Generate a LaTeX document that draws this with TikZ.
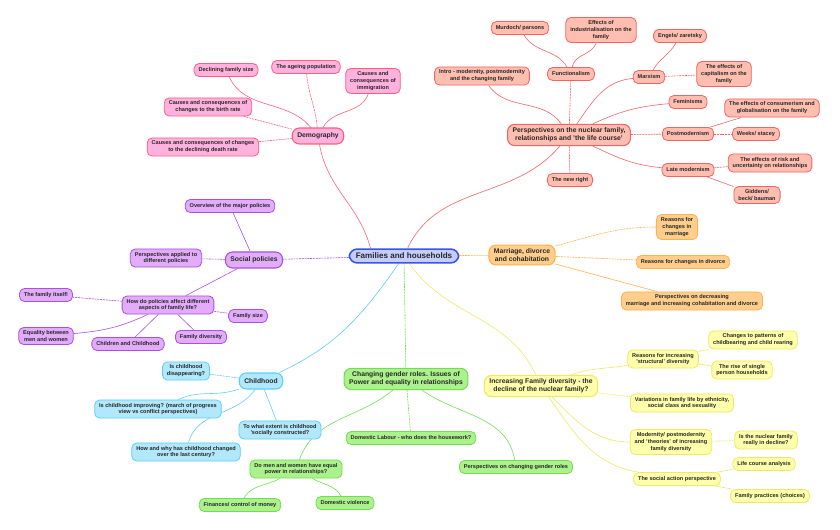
\documentclass[tikz,border=0pt]{standalone}
\usepackage{fontspec}
\setmainfont{Liberation Sans}
\usetikzlibrary{backgrounds}
\definecolor{cenfill}{RGB}{198,205,250}
\definecolor{cenline}{RGB}{51,85,238}
\definecolor{pkfill}{RGB}{255,178,222}
\definecolor{pkline}{RGB}{255,95,125}
\definecolor{rdfill}{RGB}{255,190,176}
\definecolor{rdline}{RGB}{240,100,100}
\definecolor{pufill}{RGB}{226,172,250}
\definecolor{puline}{RGB}{170,80,225}
\definecolor{cyfill}{RGB}{178,232,252}
\definecolor{cyline}{RGB}{95,205,245}
\definecolor{grfill}{RGB}{172,242,140}
\definecolor{grline}{RGB}{112,222,80}
\definecolor{yefill}{RGB}{255,255,172}
\definecolor{yeline}{RGB}{238,232,100}
\definecolor{orfill}{RGB}{255,206,140}
\definecolor{orline}{RGB}{255,176,80}
\tikzset{
  box/.style={rounded corners=5bp, align=center, inner xsep=4.5bp, inner ysep=3bp,
    minimum height=13bp, line width=0.8bp, text=black!85,
    font=\bfseries\fontsize{5.6}{6.9}\selectfont},
  topic/.style={box, rounded corners=7bp, inner xsep=5bp, inner ysep=3.5bp,
    minimum height=16bp, line width=1.1bp, font=\bfseries\fontsize{6.8}{7.9}\selectfont},
  hub/.style={box, rounded corners=8bp, inner xsep=6.5bp, inner ysep=4bp,
    line width=1.5bp, fill=cenfill, draw=cenline, font=\bfseries\fontsize{8.1}{9}\selectfont},
  pk/.style={fill=pkfill, draw=pkline},
  rd/.style={fill=rdfill, draw=rdline},
  pu/.style={fill=pufill, draw=puline},
  cy/.style={fill=cyfill, draw=cyline},
  gr/.style={fill=grfill, draw=grline},
  ye/.style={fill=yefill, draw=yeline},
  or/.style={fill=orfill, draw=orline},
  lnk/.style={line width=0.6bp},
  hv/.style={lnk, dash pattern=on 2bp off 0.8bp},
}

\begin{document}
\begin{tikzpicture}[x=1bp, y=1bp]
\useasboundingbox (0,0) rectangle (840,-530);
%---- centre
\node[hub] (fam) at (404,-256) {Families and households};
%---- demography
\node[topic,pk] (demo) at (318,-136) {Demography};
\node[box,pk] (decl) at (226,-70) {Declining family size};
\node[box,pk] (ageing) at (306,-67) {The ageing population};
\node[box,pk] (immig) at (373,-81) {Causes and\\consequences of\\immigration};
\node[box,pk] (birth) at (208,-107) {Causes and consequences of\\changes to the birth rate};
\node[box,pk] (death) at (203,-147) {Causes and consequences of changes\\to the declining death rate};
%---- perspectives
\node[topic,rd] (persp) at (569,-135) {Perspectives on the nuclear family,\\relationships and 'the life course'};
\node[box,rd] (intro) at (482,-76) {Intro - modernity, postmodernity\\and the changing family};
\node[box,rd] (func) at (571,-74) {Functionalism};
\node[box,rd] (murd) at (520,-28) {Murdoch/ parsons};
\node[box,rd] (indus) at (601,-30) {Effects of\\industrialisation on the\\family};
\node[box,rd] (marx) at (649,-77) {Marxism};
\node[box,rd] (engels) at (680,-36) {Engels/ zaretsky};
\node[box,rd] (capit) at (724,-74) {The effects of\\capitalism on the\\family};
\node[box,rd] (femin) at (688,-102) {Feminisms};
\node[box,rd] (postm) at (688,-134) {Postmodernism};
\node[box,rd] (consum) at (772,-108) {The effects of consumerism and\\globalisation on the family};
\node[box,rd] (weeks) at (756,-134) {Weeks/ stacey};
\node[box,rd] (latem) at (688,-170) {Late modernism};
\node[box,rd] (risk) at (770,-163) {The effects of risk and\\uncertainty on relationships};
\node[box,rd] (gidd) at (757,-195) {Giddens/\\beck/ bauman};
\node[box,rd] (newr) at (570,-180) {The new right};
%---- social policies
\node[topic,pu] (socp) at (254,-260) {Social policies};
\node[box,pu] (overv) at (230,-206) {Overview of the major policies};
\node[box,pu] (applied) at (166,-258) {Perspectives applied to\\different policies};
\node[box,pu] (howdo) at (168,-305) {How do policies affect different\\aspects of family life?};
\node[box,pu] (itself) at (46,-295) {The family itself!};
\node[box,pu] (fsize) at (248,-316) {Family size};
\node[box,pu] (equal) at (46,-336) {Equality between\\men and women};
\node[box,pu] (chchild) at (128,-344) {Children and Childhood};
\node[box,pu] (fdiv) at (201,-337) {Family diversity};
%---- childhood
\node[topic,cy] (child) at (261,-381) {Childhood};
\node[box,cy] (disapp) at (186,-371) {Is childhood\\disappearing?};
\node[box,cy] (improv) at (158,-409) {Is childhood improving? (march of progress\\view vs conflict perspectives)};
\node[box,cy] (constr) at (280,-430) {To what extent is childhood\\'socially constructed?};
\node[box,cy] (howwhy) at (186,-452) {How and why has childhood changed\\over the last century?};
%---- gender roles
\node[topic,gr] (gender) at (406,-379) {Changing gender roles. Issues of\\Power and equality in relationships};
\node[box,gr] (domlab) at (411,-438) {Domestic Labour - who does the housework?};
\node[box,gr] (persgr) at (516,-467) {Perspectives on changing gender roles};
\node[box,gr] (power) at (296,-469) {Do men and women have equal\\power in relationships?};
\node[box,gr] (money) at (240,-505) {Finances/ control of money};
\node[box,gr] (viol) at (345,-503) {Domestic violence};
%---- family diversity
\node[topic,ye] (divers) at (541,-386) {Increasing Family diversity - the\\decline of the nuclear family?};
\node[box,ye] (struct) at (663,-359) {Reasons for increasing\\'structural' diversity};
\node[box,ye] (childb) at (753,-340) {Changes to patterns of\\childbearing and child rearing};
\node[box,ye] (single) at (742,-370) {The rise of single\\person households};
\node[box,ye] (variat) at (682,-403) {Variations in family life by ethnicity,\\social class and sexuality};
\node[box,ye] (modern) at (671,-442) {Modernity/ postmodernity\\and 'theories' of increasing\\family diversity};
\node[box,ye] (decline) at (766,-440) {Is the nuclear family\\really in decline?};
\node[box,ye] (socact) at (677,-479) {The social action perspective};
\node[box,ye] (lifec) at (764,-464) {Life course analysis};
\node[box,ye] (pract) at (770,-496) {Family practices (choices)};
%---- marriage
\node[topic,or] (marr) at (522,-255) {Marriage, divorce\\and cohabitation};
\node[box,or] (rmarr) at (677,-227) {Reasons for\\changes in\\marriage};
\node[box,or] (rdiv) at (683,-262) {Reasons for changes in divorce};
\node[box,or] (pdecr) at (692,-301) {Perspectives on decreasing\\marriage and increasing cohabitation and divorce};
%---- links
\begin{scope}[on background layer]
\draw[lnk, pkline] ([xshift=22bp]fam.north west) to[out=105,in=-80] (demo);
\draw[lnk, pkline] (demo) to[out=130,in=-65] (decl);
\draw[hv, pkline] (demo) to[out=95,in=-85] (ageing);
\draw[lnk, pkline] (demo) to[out=60,in=-110] (immig);
\draw[hv, pkline] (demo) -- (birth);
\draw[hv, pkline] (demo) -- (death);
\draw[lnk, rdline] (fam) to[out=65,in=-130] (persp);
\draw[lnk, rdline] (persp) to[out=125,in=-55] (intro);
\draw[hv, rdline] (persp) -- (func);
\draw[lnk, rdline] (func) to[out=120,in=-60] (murd);
\draw[lnk, rdline] (func) to[out=80,in=-110] (indus);
\draw[lnk, rdline] (persp) to[out=55,in=185] (marx);
\draw[lnk, rdline] (marx) to[out=60,in=-120] (engels);
\draw[hv, rdline] (marx) -- (capit);
\draw[lnk, rdline] (persp) to[out=25,in=185] (femin);
\draw[hv, rdline] (persp) -- (postm);
\draw[lnk, rdline] (postm) -- (consum);
\draw[hv, rdline] (postm) -- (weeks);
\draw[lnk, rdline] (persp) to[out=-25,in=175] (latem);
\draw[hv, rdline] (latem) -- (risk);
\draw[lnk, rdline] (latem) -- (gidd);
\draw[hv, rdline] (persp) -- (newr);
\draw[hv, puline] (fam) -- (socp);
\draw[lnk, puline] (socp) -- (overv);
\draw[hv, puline] (socp) -- (applied);
\draw[lnk, puline] (socp) -- (howdo);
\draw[hv, puline] (howdo) -- (itself);
\draw[hv, puline] (howdo) -- (fsize);
\draw[lnk, puline] (howdo) to[out=-155,in=5] (equal);
\draw[lnk, puline] (howdo) -- (chchild);
\draw[lnk, puline] (howdo) -- (fdiv);
\draw[lnk, cyline] (fam) to[out=-125,in=25] (child);
\draw[hv, cyline] (child) -- (disapp);
\draw[lnk, cyline] (child) to[out=-160,in=25] (improv);
\draw[lnk, cyline] (child) -- (constr);
\draw[lnk, cyline] (child) to[out=-125,in=75] (howwhy);
\draw[hv, grline] (fam) -- (gender);
\draw[hv, grline] (gender) -- (domlab);
\draw[lnk, grline] (gender) to[out=-35,in=100] (persgr);
\draw[lnk, grline] (gender) to[out=-140,in=70] (power);
\draw[lnk, grline] (power) to[out=-150,in=60] (money);
\draw[lnk, grline] (power) to[out=-30,in=120] (viol);
\draw[lnk, yeline] (fam) to[out=-55,in=115] (divers);
\draw[lnk, yeline] (divers) to[out=20,in=190] (struct);
\draw[lnk, yeline] (struct) -- (childb);
\draw[lnk, yeline] (struct) -- (single);
\draw[hv, yeline] (divers) -- (variat);
\draw[lnk, yeline] (divers) to[out=-45,in=180] (modern);
\draw[hv, yeline] (modern) -- (decline);
\draw[lnk, yeline] (divers) to[out=-55,in=170] (socact);
\draw[lnk, yeline] (socact) -- (lifec);
\draw[lnk, yeline] (socact) -- (pract);
\draw[hv, orline] (fam) -- (marr);
\draw[hv, orline] (marr) to[out=15,in=180] (rmarr);
\draw[hv, orline] (marr) -- (rdiv);
\draw[lnk, orline] (marr) -- (pdecr);
\end{scope}
\end{tikzpicture}
\end{document}
